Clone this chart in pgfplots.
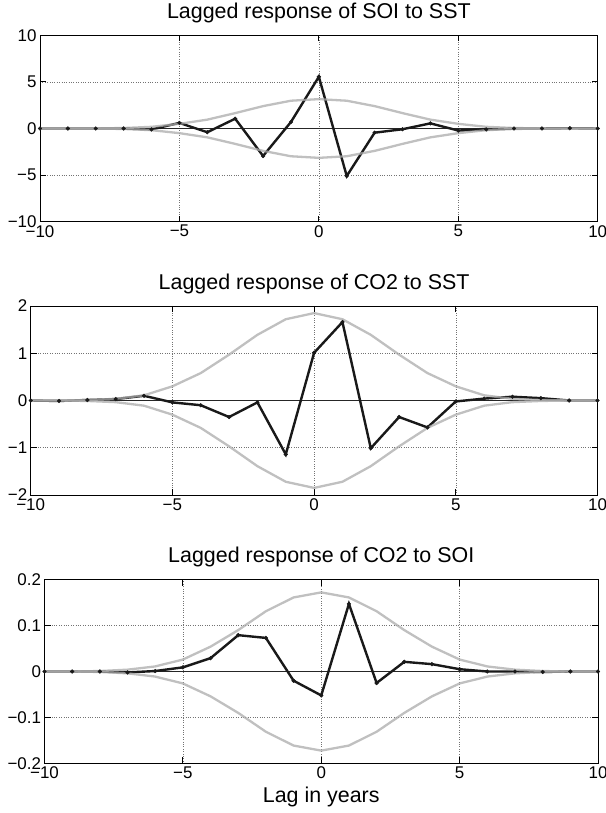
\documentclass[border=0pt]{standalone}
\usepackage{pgfplots}
\pgfplotsset{compat=1.18}
\usepackage{fontspec}
\setmainfont{Liberation Sans}
\definecolor{bandgray}{HTML}{ABABAB}

\pgfplotstableread{
x y
-10 0
-9 0
-8 0
-7 0
-6 -0.1
-5 0.6
-4 -0.4
-3 1.05
-2 -2.95
-1 0.7
0 5.55
1 -5.1
2 -0.45
3 -0.08
4 0.55
5 -0.22
6 -0.1
7 0
8 0
9 0.03
10 0
}\soisst

\pgfplotstableread{
x up lo
-10 0 0
-9 0 0
-8 0.01 -0.01
-7 0.05 -0.05
-6 0.18 -0.18
-5 0.5 -0.5
-4 0.95 -0.95
-3 1.65 -1.65
-2 2.4 -2.4
-1 2.98 -2.98
0 3.15 -3.15
1 2.98 -2.98
2 2.4 -2.4
3 1.65 -1.65
4 0.95 -0.95
5 0.5 -0.5
6 0.18 -0.18
7 0.05 -0.05
8 0.01 -0.01
9 0 0
10 0 0
}\soisstband

\pgfplotstableread{
x y
-10 0
-9 -0.01
-8 0.01
-7 0.03
-6 0.1
-5 -0.04
-4 -0.1
-3 -0.35
-2 -0.04
-1 -1.14
0 1.01
1 1.66
2 -1.01
3 -0.35
4 -0.57
5 -0.02
6 0.04
7 0.08
8 0.05
9 0
10 0
}\cotsst

\pgfplotstableread{
x up lo
-10 0 0
-9 0 0
-8 0.01 -0.01
-7 0.035 -0.035
-6 0.11 -0.11
-5 0.30 -0.30
-4 0.58 -0.58
-3 0.97 -0.97
-2 1.39 -1.39
-1 1.72 -1.72
0 1.85 -1.85
1 1.72 -1.72
2 1.39 -1.39
3 0.97 -0.97
4 0.58 -0.58
5 0.30 -0.30
6 0.11 -0.11
7 0.035 -0.035
8 0.01 -0.01
9 0 0
10 0 0
}\cotsstband

\pgfplotstableread{
x y
-10 0
-9 0
-8 0
-7 -0.002
-6 0.001
-5 0.009
-4 0.029
-3 0.079
-2 0.073
-1 -0.02
0 -0.052
1 0.147
2 -0.025
3 0.021
4 0.016
5 0.005
6 0
7 0
8 -0.001
9 0
10 0
}\cotsoi

\pgfplotstableread{
x up lo
-10 0 0
-9 0 0
-8 0.001 -0.001
-7 0.004 -0.004
-6 0.011 -0.011
-5 0.026 -0.026
-4 0.054 -0.054
-3 0.090 -0.090
-2 0.131 -0.131
-1 0.161 -0.161
0 0.172 -0.172
1 0.161 -0.161
2 0.131 -0.131
3 0.090 -0.090
4 0.054 -0.054
5 0.026 -0.026
6 0.011 -0.011
7 0.004 -0.004
8 0.001 -0.001
9 0 0
10 0 0
}\cotsoiband

\pgfplotsset{
  lagstyle/.style={
    scale only axis,
    xmin=-10, xmax=10,
    xtick={-10,-5,0,5,10},
    xticklabels={−10,−5,0,5,10},
    grid=major,
    major grid style={dotted, line width=0.6bp, black!55},
    tick align=inside,
    major tick length=6bp,
    tick style={black, line width=0.8bp},
    axis line style={line width=0.9bp},
    ticklabel style={font=\fontsize{17}{20}\selectfont},
    title style={font=\fontsize{21.5}{25}\selectfont, at={(0.5,1)}, anchor=base, yshift=11bp},
  },
  zeroline/.style={black!85, line width=0.7bp, forget plot},
  resp/.style={black!90, line width=2.4bp, mark=*, mark size=1.9bp, mark options={line width=0.4bp}},
  band/.style={bandgray, line width=2.3bp, opacity=0.75},
}

\begin{document}
\begin{tikzpicture}
\useasboundingbox (0,0) rectangle (606bp,813bp);

\begin{axis}[lagstyle,
  at={(40bp,591.3bp)}, anchor=south west,
  width=557.7bp, height=186.4bp,
  ymin=-10, ymax=10,
  ytick={-10,-5,0,5,10},
  yticklabels={−10,−5,0,5,10},
  title={Lagged response of SOI to SST}]
\addplot[zeroline] coordinates {(-10,0) (10,0)};
\addplot[resp] table[x=x,y=y] {\soisst};
\addplot[band] table[x=x,y=up] {\soisstband};
\addplot[band] table[x=x,y=lo] {\soisstband};
\end{axis}

\begin{axis}[lagstyle,
  at={(30.7bp,318bp)}, anchor=south west,
  width=566.8bp, height=189bp,
  ymin=-2, ymax=2,
  ytick={-2,-1,0,1,2},
  yticklabels={−2,−1,0,1,2},
  title={Lagged response of CO2 to SST}]
\addplot[zeroline] coordinates {(-10,0) (10,0)};
\addplot[resp] table[x=x,y=y] {\cotsst};
\addplot[band] table[x=x,y=up] {\cotsstband};
\addplot[band] table[x=x,y=lo] {\cotsstband};
\end{axis}

\begin{axis}[lagstyle,
  at={(44.5bp,49.5bp)}, anchor=south west,
  width=553.5bp, height=184bp,
  ymin=-0.2, ymax=0.2,
  ytick={-0.2,-0.1,0,0.1,0.2},
  yticklabels={−0.2,−0.1,0,0.1,0.2},
  title={Lagged response of CO2 to SOI},
  xlabel={Lag in years},
  xlabel style={font=\fontsize{21.5}{25}\selectfont, at={(0.5,0)}, anchor=base, yshift=-39.5bp}]
\addplot[zeroline] coordinates {(-10,0) (10,0)};
\addplot[resp] table[x=x,y=y] {\cotsoi};
\addplot[band] table[x=x,y=up] {\cotsoiband};
\addplot[band] table[x=x,y=lo] {\cotsoiband};
\end{axis}
\end{tikzpicture}
\end{document}
